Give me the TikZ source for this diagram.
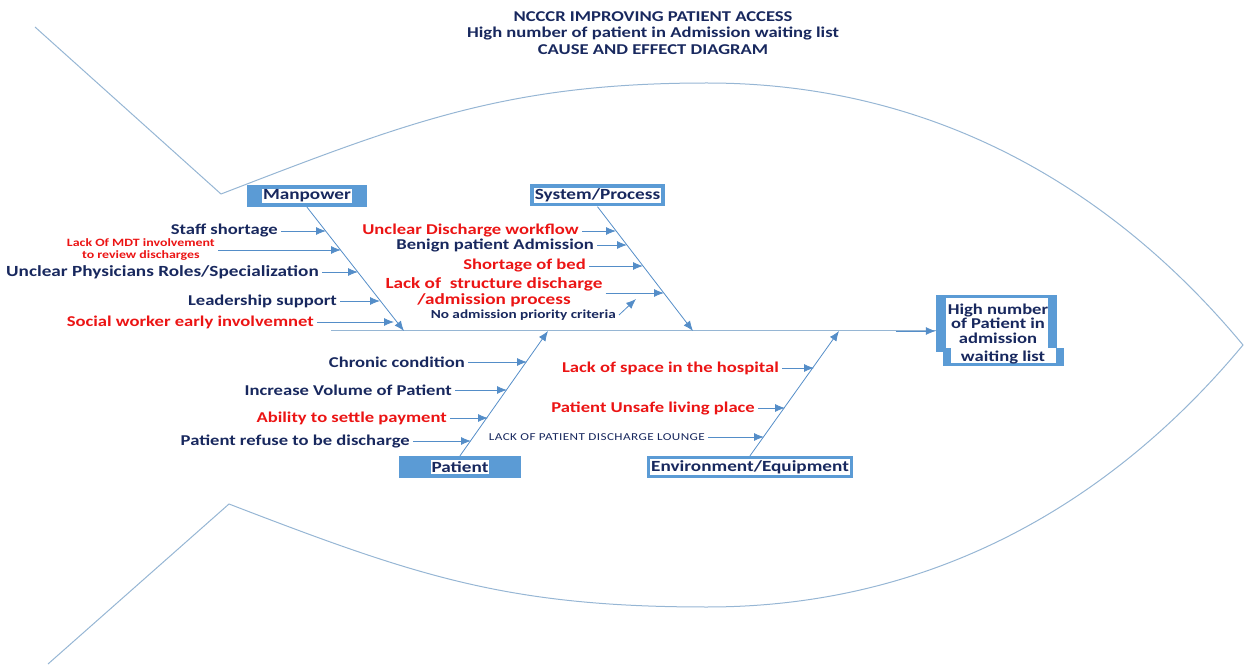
\documentclass[tikz,border=0pt]{standalone}
\usepackage{fontspec}
\setmainfont{Carlito}[FakeStretch=1.24]
\usetikzlibrary{arrows.meta}
\definecolor{navy}{RGB}{24,40,94}
\definecolor{fbred}{RGB}{235,20,20}
\definecolor{boxblue}{RGB}{91,155,213}
\definecolor{fishline}{RGB}{150,182,212}
\definecolor{arrowblue}{RGB}{84,141,200}
\begin{document}
\begin{tikzpicture}[x=1pt,y=-1pt,
  fish/.style={draw=fishline, line width=1pt},
  arr/.style={draw=arrowblue, line width=0.8pt, -{Latex[length=10pt,width=8pt]}},
  lbl/.style={anchor=east, inner sep=3pt, text=navy, font=\bfseries\fontsize{15}{17}\selectfont},
  rlbl/.style={lbl, text=fbred},
  catbox/.style={fill=boxblue, draw=none, minimum height=22pt, inner sep=0pt},
  cattext/.style={fill=white, inner sep=1pt, text=navy, font=\bfseries\fontsize{15.5}{16}\selectfont},
]
\useasboundingbox (0,0) rectangle (1245,668);
% fish outline
\draw[fish] (35,27) -- (221,194) .. controls (408,122) and (507,83) .. (707,83)
  .. controls (937,83) and (1115,191) .. (1243,345)
  .. controls (1115,499) and (937,607) .. (707,607)
  .. controls (507,607) and (416,576) .. (229,504) -- (48,664);
% title
\node[text=navy, font=\bfseries\fontsize{15}{16.5}\selectfont, align=center] (title) at (653,33)
  {NCCCR IMPROVING PATIENT ACCESS\\High number of patient in Admission waiting list\\CAUSE AND EFFECT DIAGRAM};
% effect box
\node[fill=boxblue, minimum width=121pt, minimum height=57pt, inner sep=0pt] (effect) at (996.5,323.5) {};
\fill[white] (946,298) rectangle (1048,352);
\fill[boxblue] (943,348) rectangle (1064,366);
\fill[white] (951,348) rectangle (1056,363);
\node[text=navy, font=\bfseries\fontsize{15}{14.5}\selectfont, align=center] (effecttext) at (998,334)
  {High number\\of Patient in\\admission\\[4pt]\hspace*{10pt}waiting list};
% category boxes
\node[catbox, minimum width=120pt] (manp) at (307,196) {};
\node[cattext] at (manp) {Manpower};
\node[catbox, minimum width=135pt] (sys) at (597.5,195.5) {};
\node[cattext, minimum width=125pt, minimum height=15pt] at (sys) {System/Process};
\node[catbox, minimum width=122pt] (pat) at (460,467) {};
\node[cattext] at (pat) {Patient};
\node[catbox, minimum width=206pt] (env) at (750,467) {};
\node[cattext, minimum width=196pt, minimum height=15pt] at (env) {Environment/Equipment};
% spine and bones
\coordinate (sp0) at (331,331);
\coordinate (mT) at (404,331);
\coordinate (sT) at (693,331);
\coordinate (pT) at (548,331);
\coordinate (eT) at (839,331);
\draw[draw=fishline, line width=1pt] (sp0) -- (effect.west |- sp0);
\draw[arr] (effect.west |- sp0) ++(-40,0) coordinate (spA) (spA) -- (effect.west |- sp0);
\draw[arr] (manp.south) -- (mT);
\draw[arr] (sys.south) -- (sT);
\draw[arr] (pat.north) -- (pT);
\draw[arr] (env.north) -- (eT);
% Manpower causes
\coordinate (m1t) at (326,231);
\coordinate (m2t) at (341,250);
\coordinate (m3t) at (358,272);
\coordinate (m4t) at (380,301);
\coordinate (m5t) at (394,322);
\node[lbl] (m1) at (281,231) {Staff shortage};
\node[rlbl, align=center, font=\bfseries\fontsize{11.2}{12}\selectfont] (m2) at (218,250) {Lack Of MDT involvement\\to review discharges};
\node[lbl, font=\bfseries\fontsize{15.5}{17}\selectfont] (m3) at (322,272) {Unclear Physicians Roles/Specialization};
\node[lbl] (m4) at (340,301) {Leadership support};
\node[rlbl] (m5) at (317,322) {Social worker early involvemnet};
\draw[arr] (m1.east) -- (m1t);
\draw[arr] (m2.east |- m2t) -- (m2t);
\draw[arr] (m3.east) -- (m3t);
\draw[arr] (m4.east) -- (m4t);
\draw[arr] (m5.east) -- (m5t);
% System/Process causes
\coordinate (s1t) at (616,231);
\coordinate (s2t) at (627,245);
\coordinate (s3t) at (643,266);
\coordinate (s4t) at (664,293);
\coordinate (s5t) at (636,299);
\node[rlbl] (s1) at (582,231) {Unclear Discharge workflow};
\node[lbl] (s2) at (597,245) {Benign patient Admission};
\node[rlbl] (s3) at (589,266) {Shortage of bed};
\node[rlbl, anchor=center, align=center, font=\bfseries\fontsize{15.5}{16}\selectfont] (s4) at (494,292) {Lack of~ structure discharge\\/admission process};
\node[lbl, font=\bfseries\fontsize{12.3}{14}\selectfont] (s5) at (619,315) {No admission priority criteria};
\draw[arr] (s1.east) -- (s1t);
\draw[arr] (s2.east) -- (s2t);
\draw[arr] (s3.east) -- (s3t);
\draw[arr] (s4.east |- s4t) -- (s4t);
\draw[arr] (s5.east) -- (s5t);
% Patient causes
\coordinate (p1t) at (527,362);
\coordinate (p2t) at (507,390);
\coordinate (p3t) at (488,418);
\coordinate (p4t) at (471,441);
\node[lbl] (p1) at (468,362) {Chronic condition};
\node[lbl] (p2) at (455,390) {Increase Volume of Patient};
\node[rlbl] (p3) at (450,418) {Ability to settle payment};
\node[lbl] (p4) at (413,441) {Patient refuse to be discharge};
\draw[arr] (p1.east) -- (p1t);
\draw[arr] (p2.east) -- (p2t);
\draw[arr] (p3.east) -- (p3t);
\draw[arr] (p4.east) -- (p4t);
% Environment causes
\coordinate (e1t) at (814,368);
\coordinate (e2t) at (785,408);
\coordinate (e3t) at (764,437);
\node[rlbl] (e1) at (782,368) {Lack of space in the hospital};
\node[rlbl] (e2) at (758,408) {Patient Unsafe living place};
\node[lbl, font=\fontsize{10.6}{12}\selectfont\addfontfeature{LetterSpace=4}] (e3) at (708,437) {LACK OF PATIENT DISCHARGE LOUNGE};
\draw[arr] (e1.east) -- (e1t);
\draw[arr] (e2.east) -- (e2t);
\draw[arr] (e3.east) -- (e3t);
\end{tikzpicture}
\end{document}
